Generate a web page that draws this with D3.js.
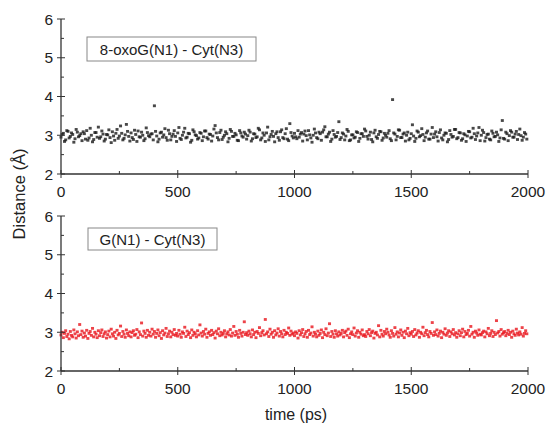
<!DOCTYPE html>
<html>
<head>
<meta charset="utf-8">
<script src="https://cdn.jsdelivr.net/npm/d3@7"></script>
<style>
  body { margin: 0; background: #fff; }
  text { font-family: "Liberation Sans", Arial, sans-serif; fill: #222; }
</style>
</head>
<body>
<svg id="chart" width="549" height="426"></svg>
<script>
// trajectory sampled every 5 ps
var timeStep = 5;

// 8-oxoG(N1) - Cyt(N3) distance (Å)
var oxoDist = [
  2.95,3.02,3.05,2.84,2.88,3.12,3.10,2.93,2.97,3.06,3.02,2.82,2.91,3.15,3.08,2.96,2.99,3.04,2.86,3.09,
  3.04,2.90,3.12,2.87,2.93,3.18,3.00,2.83,2.89,3.07,3.07,2.95,3.21,2.92,2.96,3.11,3.03,2.85,2.90,3.02,
  3.01,3.14,2.94,2.81,3.09,2.98,2.87,3.05,3.15,2.92,2.98,3.24,3.05,2.88,2.92,3.01,3.28,3.10,2.97,2.85,
  3.06,2.94,2.89,3.13,3.02,2.84,3.11,2.96,2.95,3.08,3.00,2.86,2.91,3.19,3.07,2.99,2.96,3.03,3.04,2.88,
  3.76,3.10,2.98,2.83,2.90,3.06,3.08,2.95,3.01,3.17,2.94,2.87,3.13,3.04,2.88,2.97,3.03,3.12,2.97,2.84,
  3.06,3.20,2.92,2.89,3.00,3.08,3.18,2.93,2.95,3.05,3.04,2.82,2.87,3.14,3.09,3.01,2.99,2.90,2.93,3.07,
  3.05,2.86,2.96,3.11,3.11,2.94,2.90,3.03,3.02,2.85,2.98,3.16,3.25,3.06,2.94,2.88,3.07,3.13,2.89,2.95,
  3.00,3.09,3.04,2.83,2.92,3.15,3.10,2.97,2.97,3.05,3.01,2.87,2.86,3.12,3.06,2.98,2.95,3.08,3.03,2.90,
  2.99,3.13,3.08,2.85,2.91,3.04,3.03,2.94,2.96,3.18,3.14,2.88,2.93,3.06,3.00,2.84,3.06,3.21,2.88,2.96,
  3.02,3.10,2.97,2.83,3.04,3.09,2.94,2.87,3.09,3.14,2.94,2.91,3.04,3.17,2.90,2.86,3.30,3.07,2.98,2.93,
  3.05,2.96,2.91,3.12,2.95,3.03,3.07,2.85,3.03,3.11,2.99,2.88,3.12,3.01,2.93,2.82,3.00,3.16,3.06,2.94,
  2.91,3.08,3.04,2.87,3.08,3.14,3.22,2.96,2.96,3.03,3.08,2.84,2.90,3.12,3.02,2.95,2.97,3.07,3.35,2.89,
  2.94,3.06,3.03,2.88,2.98,3.15,3.10,2.86,2.88,3.01,3.01,2.93,2.95,3.09,3.07,2.84,2.92,3.04,3.04,2.97,
  3.16,3.11,2.97,2.90,3.00,3.08,2.89,2.83,3.06,3.13,2.96,2.92,3.02,3.10,3.09,2.87,2.93,3.05,3.00,2.95,
  3.05,3.12,2.91,2.86,3.92,3.06,3.03,2.88,2.97,3.14,3.13,2.94,2.94,3.03,3.06,2.85,3.00,3.08,2.88,2.92,
  3.04,3.27,2.98,2.84,2.92,3.11,3.08,2.96,2.99,3.17,3.02,2.86,2.95,3.06,3.11,2.90,2.90,3.03,3.20,2.94,
  3.03,3.09,2.96,2.85,3.07,3.14,2.93,2.88,3.00,3.06,3.05,2.83,2.89,3.12,3.02,2.95,2.97,3.15,3.15,2.91,
  2.94,3.07,3.06,2.87,2.91,3.04,3.01,2.84,2.98,3.10,3.09,2.93,2.95,3.18,3.04,2.89,2.98,3.06,3.20,2.86,
  3.00,3.13,3.07,2.85,2.94,3.02,3.03,2.90,2.88,3.11,3.05,2.96,2.97,3.08,3.01,2.84,2.93,3.14,3.38,2.92,
  2.90,3.08,3.04,2.86,2.99,3.12,3.08,2.95,2.95,3.03,3.10,2.89,3.02,3.16,2.99,2.87,2.95,3.07,3.03,2.90
];

// G(N1) - Cyt(N3) distance (Å)
var gDist = [
  2.93,3.00,2.86,2.97,3.04,2.89,2.95,2.83,3.02,2.92,2.88,3.06,2.96,2.85,3.01,2.91,3.20,2.94,3.03,2.87,
  2.98,2.90,3.05,2.84,2.97,3.02,2.92,3.10,2.88,3.00,2.95,2.86,3.04,2.91,2.99,3.06,2.89,2.96,3.01,2.85,
  2.94,3.03,2.88,3.08,2.96,2.90,3.00,2.84,3.05,2.93,2.97,3.16,2.89,3.02,2.95,2.87,3.06,2.97,2.91,3.01,
  2.88,2.99,3.04,2.92,2.95,3.07,2.86,3.01,2.94,3.24,2.90,3.03,2.97,2.87,3.05,2.92,3.00,2.90,3.08,2.95,
  3.02,2.87,2.97,3.06,2.91,2.99,2.84,3.04,2.93,2.98,3.10,2.89,2.96,3.03,2.88,3.00,2.94,3.07,2.92,2.97,
  2.90,3.05,2.95,2.87,3.01,2.97,3.13,2.89,3.03,2.94,2.99,2.86,3.06,2.92,3.00,2.96,2.88,3.04,2.93,3.19,
  2.98,2.90,3.02,2.95,3.08,2.87,2.97,3.01,2.92,3.05,2.94,2.99,2.85,3.03,2.96,3.09,2.91,3.00,2.93,2.97,
  3.04,2.88,2.96,3.01,2.93,3.07,2.90,2.98,3.15,2.92,3.02,2.95,2.87,3.05,2.97,2.90,3.00,3.27,2.94,2.99,
  2.92,3.03,2.96,2.88,3.06,2.94,3.00,2.86,3.02,2.97,3.12,2.91,2.99,3.04,2.93,3.33,2.96,3.01,2.89,3.08,
  2.95,3.00,2.87,3.04,2.93,2.98,3.09,2.90,3.02,2.96,2.88,3.05,2.94,3.00,2.97,3.11,2.92,3.03,2.95,2.98,
  2.91,3.01,2.97,2.85,3.04,2.93,2.99,3.07,2.89,2.96,3.02,2.87,3.05,2.94,2.98,3.14,2.90,3.00,2.95,2.88,
  3.03,2.92,2.97,3.06,2.86,3.00,2.94,3.09,2.91,2.98,3.22,2.89,3.02,2.95,2.87,3.04,2.96,2.90,3.01,2.93,
  2.97,3.05,2.88,2.99,3.03,2.92,3.08,2.86,2.96,3.01,2.94,3.11,2.90,2.98,3.04,2.87,3.00,2.95,3.06,2.91,
  2.94,2.89,3.02,2.96,3.07,2.91,2.99,3.03,2.85,2.97,3.00,2.93,3.17,2.88,3.05,2.95,2.90,3.02,2.96,3.08,
  3.00,2.93,2.87,3.04,2.97,2.90,3.12,2.95,3.01,2.88,2.98,3.06,2.92,3.00,2.86,3.03,2.96,3.10,2.91,2.99,
  2.95,3.02,2.89,3.07,2.93,2.98,3.04,2.87,3.00,2.96,3.13,2.91,2.99,3.05,2.94,2.88,3.02,2.97,3.25,2.92,
  3.01,2.94,3.06,2.90,2.97,3.03,2.86,3.00,2.95,3.09,2.92,2.98,3.04,2.89,3.01,2.96,3.07,2.93,2.99,2.87,
  2.96,3.04,2.91,2.99,3.08,2.88,3.02,2.94,2.97,3.05,2.90,3.15,2.95,3.00,2.87,3.03,2.98,2.92,3.06,2.95,
  2.93,2.99,3.03,2.88,3.01,2.96,3.10,2.91,2.97,3.04,2.89,3.00,2.94,3.30,2.98,3.02,2.90,3.07,2.95,2.99,
  3.02,2.91,2.97,3.05,2.94,3.00,2.87,3.03,2.96,2.92,3.08,2.98,2.93,3.01,2.95,3.12,2.90,2.97,3.04,2.96
];

var xTicks = [0, 500, 1000, 1500, 2000];
var xMinor = [250, 750, 1250, 1750];
var yTicks = [2, 3, 4, 5, 6];
var yMinor = [2.5, 3.5, 4.5, 5.5];
var panelLabels = ['8-oxoG(N1) - Cyt(N3)', 'G(N1) - Cyt(N3)'];

var panels = [
  { label: panelLabels[0], values: oxoDist, color: '#1a1a1a', top: 19, box: [87, 37, 169, 24] },
  { label: panelLabels[1], values: gDist, color: '#e8141c', top: 216, box: [88, 228, 129, 22] }
];

var svg = d3.select('#chart');
var left = 61, right = 528, plotH = 155;
var axisColor = '#333';

var x = d3.scaleLinear().domain([0, 2000]).range([left, right]);

panels.forEach(function (p) {
  var y = d3.scaleLinear().domain([2, 6]).range([p.top + plotH, p.top]);
  var g = svg.append('g');
  var base = y(2);

  // points
  g.append('g').selectAll('rect')
    .data(p.values)
    .enter().append('rect')
    .attr('x', function (d, i) { return x(i * timeStep) - 1.5; })
    .attr('y', function (d) { return y(d) - 1.4; })
    .attr('width', 3)
    .attr('height', 2.8)
    .attr('fill', p.color)
    .attr('opacity', 0.8);

  // axis lines
  g.append('line').attr('x1', left).attr('x2', right).attr('y1', base).attr('y2', base)
    .attr('stroke', axisColor).attr('stroke-width', 1.3);
  g.append('line').attr('x1', left).attr('x2', left).attr('y1', y(2)).attr('y2', y(6))
    .attr('stroke', axisColor).attr('stroke-width', 1.3);

  // x ticks: major cross the axis, minor point inward
  g.selectAll('.xmaj').data(xTicks).enter().append('line')
    .attr('x1', function (d) { return x(d); }).attr('x2', function (d) { return x(d); })
    .attr('y1', base - 4).attr('y2', base + 4)
    .attr('stroke', axisColor);
  g.selectAll('.xmin').data(xMinor).enter().append('line')
    .attr('x1', function (d) { return x(d); }).attr('x2', function (d) { return x(d); })
    .attr('y1', base - 3).attr('y2', base)
    .attr('stroke', axisColor);
  g.selectAll('.xlab').data(xTicks).enter().append('text')
    .attr('x', function (d) { return x(d); })
    .attr('y', base + 23)
    .attr('text-anchor', 'middle')
    .style('font-size', '15.5px')
    .text(d3.format('d'));

  // y ticks
  g.selectAll('.ymaj').data(yTicks).enter().append('line')
    .attr('x1', left - 4).attr('x2', left + 4)
    .attr('y1', function (d) { return y(d); }).attr('y2', function (d) { return y(d); })
    .attr('stroke', axisColor);
  g.selectAll('.ymin').data(yMinor).enter().append('line')
    .attr('x1', left).attr('x2', left + 3)
    .attr('y1', function (d) { return y(d); }).attr('y2', function (d) { return y(d); })
    .attr('stroke', axisColor);
  g.selectAll('.ylab').data(yTicks).enter().append('text')
    .attr('x', left - 8)
    .attr('y', function (d) { return y(d) + 5.5; })
    .attr('text-anchor', 'end')
    .style('font-size', '15.5px')
    .text(d3.format('d'));

  // legend box
  g.append('rect')
    .attr('x', p.box[0]).attr('y', p.box[1])
    .attr('width', p.box[2]).attr('height', p.box[3])
    .attr('fill', '#fff').attr('stroke', '#888').attr('stroke-width', 1);
  g.append('text')
    .attr('x', p.box[0] + p.box[2] / 2)
    .attr('y', p.box[1] + p.box[3] / 2 + 5.5)
    .attr('text-anchor', 'middle')
    .style('font-size', '15px')
    .text(p.label);
});

svg.append('text')
  .attr('transform', 'translate(25,194) rotate(-90)')
  .attr('text-anchor', 'middle')
  .style('font-size', '16.5px')
  .text('Distance (Å)');

svg.append('text')
  .attr('x', 296).attr('y', 420)
  .attr('text-anchor', 'middle')
  .style('font-size', '16px')
  .text('time (ps)');
</script>
</body>
</html>
